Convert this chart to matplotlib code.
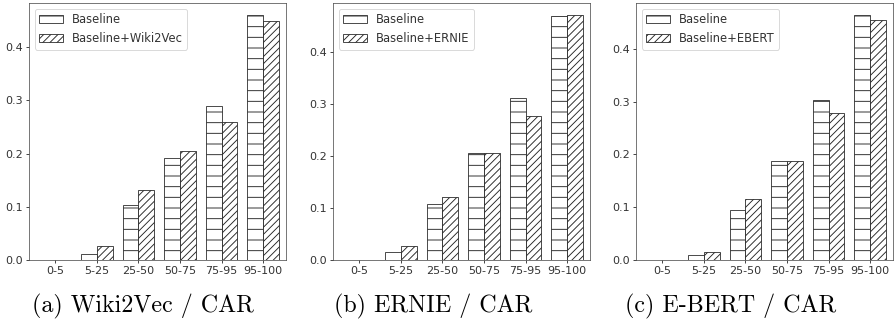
import matplotlib
matplotlib.use("Agg")
import matplotlib.pyplot as plt
import numpy as np

# buckets on the x axis
buckets = ["0-5", "5-25", "25-50", "50-75", "75-95", "95-100"]

# panel (a) Wiki2Vec / CAR
base_wiki = [0.0, 0.011, 0.104, 0.191, 0.289, 0.460]
wiki2vec = [0.0, 0.026, 0.131, 0.204, 0.259, 0.450]

# panel (b) ERNIE / CAR
base_ernie = [0.0, 0.015, 0.108, 0.206, 0.312, 0.469]
ernie = [0.0, 0.026, 0.121, 0.206, 0.278, 0.471]

# panel (c) E-BERT / CAR
base_ebert = [0.0, 0.010, 0.095, 0.188, 0.303, 0.464]
ebert = [0.0, 0.016, 0.116, 0.188, 0.278, 0.455]

panels = [
    (base_wiki, wiki2vec, "Baseline+Wiki2Vec", "(a) Wiki2Vec / CAR"),
    (base_ernie, ernie, "Baseline+ERNIE", "(b) ERNIE / CAR"),
    (base_ebert, ebert, "Baseline+EBERT", "(c) E-BERT / CAR"),
]

plt.rcParams["font.size"] = 12.5
plt.rcParams["text.color"] = "#333333"
plt.rcParams["xtick.labelcolor"] = "#333333"
plt.rcParams["ytick.labelcolor"] = "#333333"

W, H = 894, 325
DPI = 64
fig = plt.figure(figsize=(W / DPI, H / DPI), dpi=DPI)

lefts = [29, 333, 636]
ax_w, ax_bot, ax_top = 257, 260, 3
cap_x = [143, 433, 731]
width = 0.38
x = np.arange(len(buckets))

for (base, other, label, caption), left, cx in zip(panels, lefts, cap_x):
    ax = fig.add_axes([left / W, 1 - ax_bot / H, ax_w / W, (ax_bot - ax_top) / H])
    ax.bar(x - width / 2, base, width, color="white", edgecolor="#222222",
           linewidth=0.9, hatch="-", label="Baseline")
    ax.bar(x + width / 2, other, width, color="white", edgecolor="#222222",
           linewidth=0.9, hatch="///", label=label)
    ax.set_xticks(x)
    ax.set_xticklabels(buckets)
    ax.set_xlim(-0.63, 5.55)
    ax.set_yticks([0.0, 0.1, 0.2, 0.3, 0.4])
    for sp in ax.spines.values():
        sp.set_color("#444444")
    ax.legend(loc="upper left", fontsize=13)
    fig.text(cx / W, 1 - 312 / H, caption, family="cmr10", fontsize=27,
             color="black", ha="center", va="baseline")

fig.savefig("out.png", dpi=DPI)
